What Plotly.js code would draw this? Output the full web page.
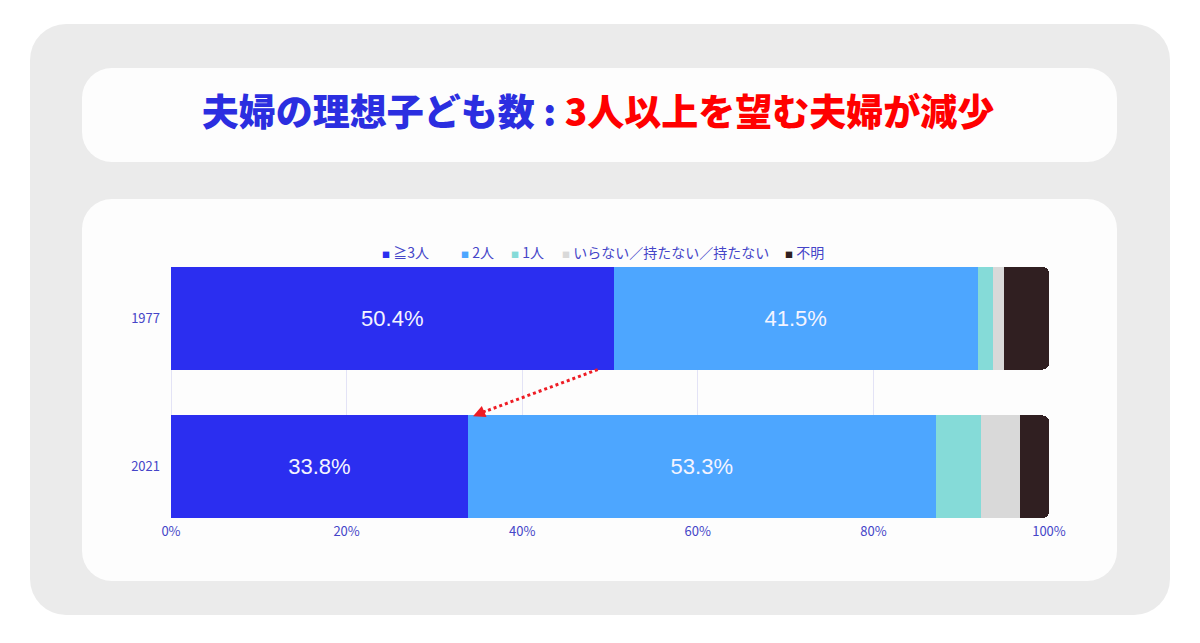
<!DOCTYPE html>
<html>
<head>
<meta charset="utf-8">
<script src="https://cdn.plot.ly/plotly-3.0.1.min.js"></script>
<style>
  html, body { margin:0; padding:0; background:#ffffff; }
  #wrap { position:relative; width:1200px; height:643px; overflow:hidden; }
  .panel { position:absolute; }
  #outer { left:30px; top:24px; width:1140px; height:591px; border-radius:36px; background:#ebebeb; }
  #tbox { left:82px; top:68px; width:1035px; height:94px; border-radius:30px; background:#fdfdfd; }
  #cbox { left:82px; top:199px; width:1035px; height:382px; border-radius:30px; background:#fdfdfd; }
  #chart { position:absolute; left:0; top:0; width:1200px; height:643px; }
</style>
</head>
<body>
<div id="wrap">
  <div class="panel" id="outer"></div>
  <div class="panel" id="tbox"></div>
  <div class="panel" id="cbox"></div>
  <div id="chart"></div>
</div>
<script>
// ---- data ----
const years = ["1977", "2021"];
const seriesNames = ["≧3人", "2人", "1人", "いらない／持たない／持たない", "不明"];
const seriesColors = ["#2b2ef0", "#4da6ff", "#85dbd8", "#d9d9d9", "#301f21"];
const share3plus = [50.4, 33.8];
const share2 = [41.5, 53.3];
const share1 = [1.7, 5.2];
const shareNone = [1.3, 4.4];
const shareUnknown = [5.1, 3.3];
const xTickVals = [0, 20, 40, 60, 80, 100];
const xTickText = ["0%", "20%", "40%", "60%", "80%", "100%"];
const titleLeft = "夫婦の理想子ども数 : ";
const titleRight = "3人以上を望む夫婦が減少";

const seriesValues = [share3plus, share2, share1, shareNone, shareUnknown];
const labelled = [true, true, false, false, false];

const W = 1200, H = 643;
const plotL = 171, plotR = 1049, plotT = 267, plotB = 518;
const tickColor = "#4545c8";

const traces = seriesNames.map((name, i) => ({
  type: "bar",
  orientation: "h",
  name: name,
  y: years,
  x: seriesValues[i],
  marker: { color: seriesColors[i], line: { width: 0 } },
  text: labelled[i] ? seriesValues[i].map(v => v.toFixed(1) + "%") : undefined,
  textposition: labelled[i] ? "inside" : "none",
  insidetextanchor: "middle",
  textfont: { family: "Liberation Sans, Arial, sans-serif", size: 22, color: "#f4f4ff" },
  hoverinfo: "none",
  showlegend: false
}));

// custom legend built from the series arrays
const legendX = [383, 462, 512, 563, 786];
const annotations = seriesNames.map((name, i) => ({
  xref: "paper", yref: "paper",
  x: (legendX[i] - 3 - plotL) / (plotR - plotL),
  y: 1 + (plotT - 252) / (plotB - plotT),
  xanchor: "left", yanchor: "middle",
  showarrow: false,
  text: '<span style="color:' + seriesColors[i] + ';font-size:8px">■</span> ' + name,
  font: { family: "Noto Sans CJK JP", size: 14, color: tickColor }
}));

// arrow: from end of 1977 "≥3人" bar to end of 2021 "≥3人" bar
const halfBar = 0.3456;
const arrowX0 = share3plus[0] - 1.8;
const arrowX1 = share3plus[1] + 0.6;
const arrowY0 = 0 + halfBar;
const arrowY1 = 1 - halfBar;
annotations.push({
  xref: "x", yref: "y", axref: "x", ayref: "y",
  x: arrowX1, y: arrowY1 + 0.005,
  ax: arrowX1 + 1.6, ay: arrowY1 - 0.035,
  showarrow: true, arrowhead: 2, arrowsize: 1.1, arrowwidth: 2.2,
  arrowcolor: "#ee1c24", text: ""
});

const layout = {
  width: W, height: H,
  paper_bgcolor: "rgba(0,0,0,0)",
  plot_bgcolor: "rgba(0,0,0,0)",
  margin: { l: plotL, r: W - plotR, t: plotT, b: H - plotB, pad: 0 },
  barmode: "stack",
  bargap: 1 - 2 * halfBar,
  barcornerradius: 6,
  showlegend: false,
  title: {
    text: '<span style="color:#2b2ee0">' + titleLeft + '</span><span style="color:#ff0000">' + titleRight + '</span>',
    font: { family: "Noto Sans CJK JP", size: 37, weight: 900 },
    x: 598 / W, xanchor: "center",
    y: 1 - 113 / H, yanchor: "middle",
    xref: "container", yref: "container"
  },
  xaxis: {
    range: [0, 100],
    tickvals: xTickVals,
    ticktext: xTickText,
    showgrid: true,
    gridcolor: "#e3e3f6",
    gridwidth: 1,
    zeroline: true,
    zerolinecolor: "#e3e3f6",
    zerolinewidth: 1,
    showline: false,
    ticks: "",
    ticklabelstandoff: 4,
    tickfont: { family: "Noto Sans CJK JP", size: 13, color: tickColor },
    fixedrange: true
  },
  yaxis: {
    type: "category",
    categoryorder: "array",
    categoryarray: years,
    range: [1 + halfBar, -halfBar],
    showgrid: false,
    zeroline: false,
    showline: false,
    ticks: "",
    ticklabelstandoff: 10,
    tickfont: { family: "Noto Sans CJK JP", size: 13, color: tickColor },
    fixedrange: true
  },
  shapes: [{
    type: "line", xref: "x", yref: "y",
    x0: arrowX0, y0: arrowY0, x1: arrowX1 + 0.6, y1: arrowY1 - 0.01,
    line: { color: "#ee1c24", width: 3, dash: "dot" }
  }],
  annotations: annotations
};

Plotly.newPlot("chart", traces, layout, { displayModeBar: false, staticPlot: true });
</script>
</body>
</html>
